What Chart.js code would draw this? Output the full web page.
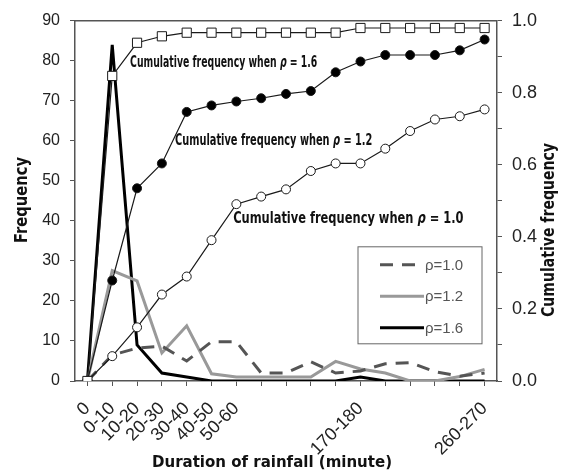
<!DOCTYPE html>
<html>
<head>
<meta charset="utf-8">
<script src="https://cdn.jsdelivr.net/npm/chart.js@4/dist/chart.umd.min.js"></script>
<style>
  html, body { margin: 0; padding: 0; background: #fff; }
</style>
</head>
<body>
<canvas id="chart" width="567" height="471"></canvas>
<script>
// categories of rainfall duration (only some carry a printed label)
const categories = ['0', '0-10', '10-20', '20-30', '30-40', '40-50', '50-60', '', '', '', '', '170-180', '', '', '', '', '260-270'];

// frequency (left axis)
const freqRho10 = [0, 6.5, 8.2, 8.7, 5, 9.8, 9.8, 2, 2, 4.8, 2, 2.5, 4.3, 4.6, 2.3, 1.2, 2];
const freqRho12 = [0, 27.6, 25, 7, 13.8, 1.8, 1, 1, 1, 1, 4.9, 3, 2, 0, 0, 1.1, 2.9];
const freqRho16 = [0, 84, 9, 2, 1, 0, 0, 0, 0, 0, 0, 1, 0, 0, 0, 0, 0];

// cumulative frequency (right axis)
const cumRho16 = [0, 0.847, 0.939, 0.957, 0.967, 0.967, 0.967, 0.967, 0.967, 0.967, 0.967, 0.98, 0.98, 0.98, 0.98, 0.98, 0.98];
const cumRho12 = [0, 0.279, 0.535, 0.604, 0.747, 0.765, 0.776, 0.785, 0.797, 0.805, 0.857, 0.887, 0.905, 0.905, 0.905, 0.918, 0.948];
const cumRho10 = [0, 0.069, 0.149, 0.24, 0.29, 0.391, 0.491, 0.512, 0.532, 0.583, 0.604, 0.604, 0.645, 0.694, 0.726, 0.735, 0.754];

const legendNames = ['ρ=1.0', 'ρ=1.2', 'ρ=1.6'];

const ctx = document.getElementById('chart').getContext('2d');

const sans = '"Liberation Sans", Arial, sans-serif';
const narrow = '"Liberation Sans Narrow", "DejaVu Sans Condensed", sans-serif';

// draw a run of text pieces squeezed/stretched to a given width
const drawFit = (c, parts, x, y, width, align) => {
    let total = 0;
    parts.forEach(p => { c.font = p.font; total += c.measureText(p.text).width; });
    const k = width / total;
    c.save();
    c.translate(x, y);
    c.scale(k, 1);
    let cx = align === 'center' ? -total / 2 : 0;
    c.textBaseline = 'middle';
    c.textAlign = 'left';
    parts.forEach(p => {
        c.font = p.font;
        c.fillText(p.text, cx, 0);
        cx += c.measureText(p.text).width;
    });
    c.restore();
};

const notes = [
    { value: '1.6', from: 1.72, to: 9.26, at: 0.882 },
    { value: '1.2', from: 3.53, to: 11.48, at: 0.666 },
    { value: '1.0', from: 5.87, to: 15.15, at: 0.449 }
];

const decor = {
    id: 'decor',
    afterDatasetsDraw(chart) {
        const c = chart.ctx;
        const a = chart.chartArea;
        const xs = chart.scales.x;
        const ys = chart.scales.y1;

        // frame top
        c.save();
        c.strokeStyle = '#555';
        c.lineWidth = 1.5;
        c.beginPath();
        c.moveTo(a.left, a.top);
        c.lineTo(a.right, a.top);
        c.stroke();
        c.restore();

        // curve annotations
        c.save();
        c.fillStyle = '#111';
        const bold = 'bold 16px ' + narrow;
        const ital = 'italic bold 16px ' + narrow;
        notes.forEach(n => {
            const x0 = xs.getPixelForValue(n.from);
            const x1 = xs.getPixelForValue(n.to);
            drawFit(c, [
                { text: 'Cumulative frequency when ', font: bold },
                { text: 'ρ', font: ital },
                { text: ' = ' + n.value, font: bold }
            ], x0, ys.getPixelForValue(n.at), x1 - x0, 'left');
        });
        c.restore();

        // legend box
        const bx = a.right - 139, by = a.top + 226, bw = 124, bh = 97;
        c.save();
        c.strokeStyle = '#666';
        c.lineWidth = 1;
        c.strokeRect(bx, by, bw, bh);
        const freqSets = chart.data.datasets.slice(3);
        freqSets.forEach((ds, i) => {
            const ry = by + 18 + i * 31.5;
            c.save();
            c.strokeStyle = ds.borderColor;
            c.lineWidth = ds.borderWidth;
            c.setLineDash(ds.borderDash || []);
            c.beginPath();
            c.moveTo(bx + 22, ry);
            c.lineTo(bx + (ds.borderDash ? 60 : 66), ry);
            c.stroke();
            c.restore();
            c.fillStyle = '#555';
            c.font = '15px ' + sans;
            c.textAlign = 'left';
            c.textBaseline = 'middle';
            c.fillText(legendNames[i], bx + 67, ry + 1);
        });
        c.restore();

        // axis titles
        c.save();
        c.fillStyle = '#111';
        drawFit(c, [{ text: 'Duration of rainfall (minute)', font: 'bold 16px ' + narrow }], 272, 463, 240, 'center');
        c.translate(22, 200);
        c.rotate(-Math.PI / 2);
        drawFit(c, [{ text: 'Frequency', font: 'bold 18px ' + narrow }], 0, 0, 86, 'center');
        c.restore();
        c.save();
        c.fillStyle = '#111';
        c.translate(549, 230);
        c.rotate(-Math.PI / 2);
        drawFit(c, [{ text: 'Cumulative frequency', font: 'bold 18px ' + narrow }], 0, 0, 174, 'center');
        c.restore();
    }
};

const cumLine = (data, bg, style, radius) => ({
    data,
    yAxisID: 'y1',
    borderColor: '#1a1a1a',
    borderWidth: 1.2,
    pointStyle: style,
    pointRadius: radius,
    pointBackgroundColor: bg,
    pointBorderColor: '#1a1a1a',
    pointBorderWidth: 1,
    tension: 0
});

const freqLine = (data, color, dash) => ({
    data,
    yAxisID: 'y',
    borderColor: color,
    borderWidth: 3,
    borderDash: dash,
    pointRadius: 0,
    tension: 0
});

const chart = new Chart(ctx, {
    type: 'line',
    data: {
        labels: categories,
        datasets: [
            cumLine(cumRho16, '#fff', 'rect', 6.5),
            cumLine(cumRho12, '#000', 'circle', 4.5),
            cumLine(cumRho10, '#fff', 'circle', 4.5),
            freqLine(freqRho10, '#555', [13, 9]),
            freqLine(freqRho12, '#999', undefined),
            freqLine(freqRho16, '#000', undefined)
        ]
    },
    options: {
        responsive: false,
        animation: false,
        layout: { padding: { top: 16, left: 0, right: 0, bottom: 0 } },
        plugins: { legend: { display: false }, tooltip: { enabled: false } },
        scales: {
            x: {
                offset: true,
                grid: { drawOnChartArea: false, offset: false, tickLength: 5, color: '#555' },
                border: { color: '#555', width: 1.5 },
                ticks: {
                    autoSkip: false,
                    minRotation: 45,
                    maxRotation: 45,
                    padding: 12,
                    color: '#222',
                    font: { family: sans, size: 18 }
                },
                afterFit: s => { s.height = 90; }
            },
            y: {
                position: 'left',
                min: 0,
                max: 90,
                grid: { drawOnChartArea: false, tickLength: 5, color: '#555' },
                border: { color: '#555', width: 1.5 },
                ticks: { stepSize: 10, padding: 10, color: '#222', font: { family: sans, size: 16 } },
                afterFit: s => { s.width = 75; }
            },
            y1: {
                position: 'right',
                min: 0,
                max: 1,
                grid: { drawOnChartArea: false, tickLength: 5, color: '#555' },
                border: { color: '#555', width: 1.5 },
                ticks: {
                    stepSize: 0.1,
                    padding: 10,
                    color: '#222',
                    font: { family: sans, size: 18 },
                    callback: v => (Math.round(v * 10) % 2 === 0 ? v.toFixed(1) : '')
                },
                afterFit: s => { s.width = 70; }
            }
        }
    },
    plugins: [decor]
});
</script>
</body>
</html>
